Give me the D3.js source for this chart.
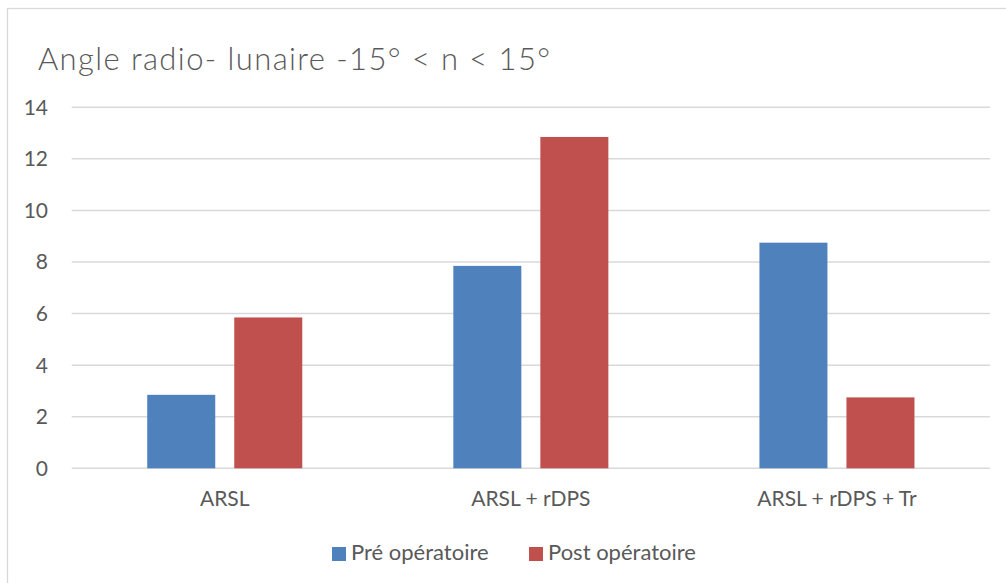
<!DOCTYPE html>
<html>
<head>
  <meta charset="utf-8">
  <script src="https://d3js.org/d3.v7.min.js"></script>
  <style>
    body { margin: 0; background: #fff; }
    text { font-family: Lato, "Open Sans", sans-serif; fill: #595959; }
  </style>
</head>
<body>
<div id="vis"></div>
<script>
  // chart data
  var categories = ["ARSL", "ARSL + rDPS", "ARSL + rDPS + Tr"]
  var seriesNames = ["Pré opératoire", "Post opératoire"]
  var preValues = [2.85, 7.85, 8.75]
  var postValues = [5.85, 12.85, 2.75]
  var yTicks = [0, 2, 4, 6, 8, 10, 12, 14]
  var colors = ["#4F81BD", "#C0504D"]

  var width = 1006, height = 583

  var svg = d3.select("#vis").append("svg")
    .attr("width", width)
    .attr("height", height)

  // chart area border
  svg.append("rect")
    .attr("x", 7.5).attr("y", 8.5)
    .attr("width", 1010).attr("height", 590)
    .attr("fill", "none")
    .attr("stroke", "#D9D9D9")
    .attr("stroke-width", 1.3)

  // title
  svg.append("text")
    .attr("x", 38).attr("y", 70)
    .style("font-size", "31px")
    .style("font-weight", 300)
    .style("letter-spacing", "1.4px")
    .text("Angle radio- lunaire -15° < n < 15°")

  var y = d3.scaleLinear().domain([0, 14]).range([468.3, 107.3])
  var x0 = d3.scaleBand().domain(categories).range([71.7, 990])
    .paddingInner(0.4935).paddingOuter(0.4935 / 2)
  var x1 = d3.scaleBand().domain(seriesNames).range([0, x0.bandwidth()])
    .paddingInner(0.2184).paddingOuter(0)

  // gridlines
  svg.append("g")
    .selectAll("line")
    .data(yTicks)
    .enter()
    .append("line")
    .attr("x1", 71.7).attr("x2", 990)
    .attr("y1", function (d) { return y(d) })
    .attr("y2", function (d) { return y(d) })
    .attr("stroke", "#D9D9D9")
    .attr("stroke-width", 1.5)

  // y axis labels
  svg.append("g")
    .selectAll("text")
    .data(yTicks)
    .enter()
    .append("text")
    .attr("x", 48)
    .attr("y", function (d) { return y(d) })
    .attr("dy", "0.35em")
    .attr("text-anchor", "end")
    .style("font-size", "21px")
    .text(function (d) { return d })

  // bars
  var rows = categories.map(function (c, i) {
    return { cat: c, vals: [preValues[i], postValues[i]] }
  })

  var groups = svg.append("g")
    .selectAll("g")
    .data(rows)
    .enter()
    .append("g")
    .attr("transform", function (d) { return "translate(" + x0(d.cat) + ",0)" })

  groups.selectAll("rect")
    .data(function (d) {
      return d.vals.map(function (v, j) { return { name: seriesNames[j], v: v, j: j } })
    })
    .enter()
    .append("rect")
    .attr("x", function (d) { return x1(d.name) })
    .attr("width", x1.bandwidth())
    .attr("y", function (d) { return y(d.v) })
    .attr("height", function (d) { return y(0) - y(d.v) })
    .attr("fill", function (d) { return colors[d.j] })

  // category labels
  svg.append("g")
    .selectAll("text")
    .data(categories)
    .enter()
    .append("text")
    .attr("x", function (d) { return x0(d) + x0.bandwidth() / 2 })
    .attr("y", 506)
    .attr("text-anchor", "middle")
    .style("font-size", "21px")
    .text(function (d) { return d })

  // legend
  var legendX = [332, 529]
  var legend = svg.append("g")
    .selectAll("g")
    .data(seriesNames)
    .enter()
    .append("g")
    .attr("transform", function (d, i) { return "translate(" + legendX[i] + ",547)" })

  legend.append("rect")
    .attr("width", 14).attr("height", 14)
    .attr("fill", function (d, i) { return colors[i] })

  legend.append("text")
    .attr("x", 19).attr("y", 13)
    .style("font-size", "22px")
    .text(function (d) { return d })
</script>
</body>
</html>
